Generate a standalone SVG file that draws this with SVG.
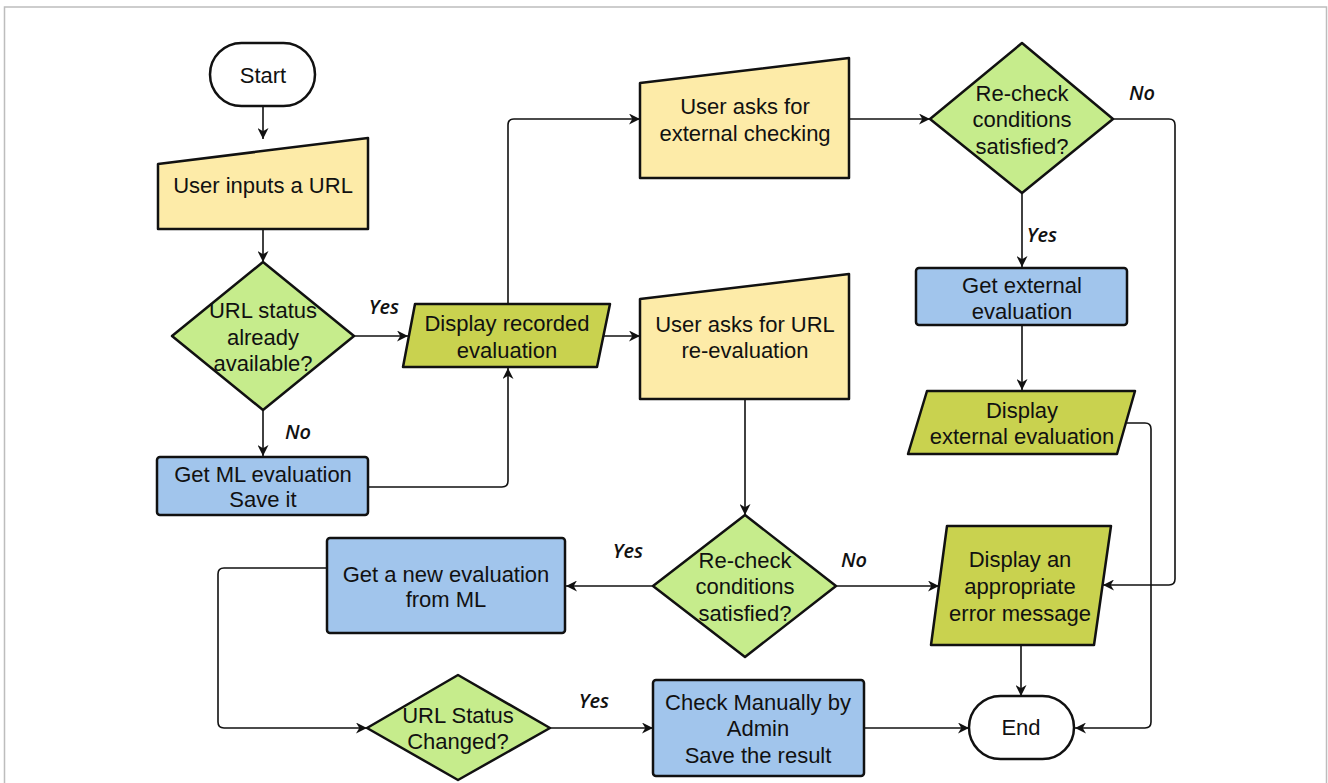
<svg xmlns="http://www.w3.org/2000/svg" width="1328" height="783" viewBox="0 0 1328 783">
  <style>
    .node { stroke: #111; stroke-width: 2.5; stroke-linejoin: round; }
    .term { fill: #ffffff; }
    .input { fill: #fdeba8; }
    .decision { fill: #c6ec8c; }
    .display { fill: #c9d24f; }
    .process { fill: #a1c5ec; }
    .label { font-family: "Liberation Sans", Arial, sans-serif; font-size: 22px; fill: #111; text-anchor: middle; }
    .branch { font-family: "Open Sans", "DejaVu Sans", sans-serif; font-size: 20px; font-style: italic; font-weight: 600; fill: #111; text-anchor: middle; }
    .conn { fill: none; stroke: #111; stroke-width: 1.6; marker-end: url(#arrow); }
  </style>
  <defs>
    <marker id="arrow" viewBox="0 0 10 10" refX="10" refY="5" markerWidth="11" markerHeight="11" markerUnits="userSpaceOnUse" orient="auto">
      <path d="M0,0 L10,5 L0,10 L3,5 Z" fill="#111"/>
    </marker>
  </defs>

  <rect x="0" y="0" width="1328" height="783" fill="#ffffff"/>
  <!-- frame -->
  <rect x="4.5" y="7" width="1322" height="800" fill="none" stroke="#bdbdbd" stroke-width="1.5"/>

  <!-- connectors -->
  <g id="connectors">
    <path class="conn" d="M263,106 V139"/>
    <path class="conn" d="M263,229 V262"/>
    <path class="conn" d="M354,336 H408"/>
    <path class="conn" d="M263,410 V456"/>
    <path class="conn" d="M368,487 H502 Q508,487 508,481 V368"/>
    <path class="conn" d="M508,304 V125 Q508,119 514,119 H640"/>
    <path class="conn" d="M603,336 H640"/>
    <path class="conn" d="M849,119 H930"/>
    <path class="conn" d="M1113,119 H1169 Q1175,119 1175,125 V579 Q1175,585 1169,585 H1103"/>
    <path class="conn" d="M1022,193 V267"/>
    <path class="conn" d="M1022,325 V390"/>
    <path class="conn" d="M1127,423 H1145 Q1151,423 1151,429 V722 Q1151,728 1145,728 H1075"/>
    <path class="conn" d="M745,399 V515"/>
    <path class="conn" d="M836,586 H939"/>
    <path class="conn" d="M653,586 H566"/>
    <path class="conn" d="M327,568 H224 Q218,568 218,574 V722 Q218,728 224,728 H367"/>
    <path class="conn" d="M550,728 H653"/>
    <path class="conn" d="M864,728 H969"/>
    <path class="conn" d="M1021,645 V696"/>

    <text class="branch" x="384" y="314">Yes</text>
    <text class="branch" x="298" y="439">No</text>
    <text class="branch" x="1042" y="242">Yes</text>
    <text class="branch" x="1142" y="100">No</text>
    <text class="branch" x="628" y="558">Yes</text>
    <text class="branch" x="854" y="567">No</text>
    <text class="branch" x="594" y="708">Yes</text>
  </g>

  <g id="start">
    <rect class="node term" x="210" y="43" width="105" height="63" rx="31.5"/>
    <text class="label" x="263" y="83">Start</text>
  </g>

  <g id="user-input-url">
    <path class="node input" d="M158,164 L368,138 L368,229 L158,229 Z"/>
    <text class="label" x="263" y="193">User inputs a URL</text>
  </g>

  <g id="status-available">
    <path class="node decision" d="M263,262 L354,336 L263,410 L172,336 Z"/>
    <text class="label" x="263" y="318">URL status</text>
    <text class="label" x="263" y="345">already</text>
    <text class="label" x="263" y="371">available?</text>
  </g>

  <g id="display-recorded">
    <path class="node display" d="M415,304 L610,304 L597,367 L403,367 Z"/>
    <text class="label" x="507" y="331">Display recorded</text>
    <text class="label" x="507" y="358">evaluation</text>
  </g>

  <g id="get-ml-evaluation">
    <rect class="node process" x="157" y="457" width="211" height="58" rx="3"/>
    <text class="label" x="263" y="482">Get ML evaluation</text>
    <text class="label" x="263" y="507">Save it</text>
  </g>

  <g id="ask-external">
    <path class="node input" d="M640,83 L849,58 L849,178 L640,178 Z"/>
    <text class="label" x="745" y="114">User asks for</text>
    <text class="label" x="745" y="141">external checking</text>
  </g>

  <g id="ask-reevaluation">
    <path class="node input" d="M640,299 L849,274 L849,399 L640,399 Z"/>
    <text class="label" x="745" y="332">User asks for URL</text>
    <text class="label" x="745" y="358">re-evaluation</text>
  </g>

  <g id="recheck-external">
    <path class="node decision" d="M1022,43 L1113,119 L1022,193 L930,119 Z"/>
    <text class="label" x="1022" y="101">Re-check</text>
    <text class="label" x="1022" y="127">conditions</text>
    <text class="label" x="1022" y="154">satisfied?</text>
  </g>

  <g id="get-external">
    <rect class="node process" x="916" y="268" width="211" height="57" rx="3"/>
    <text class="label" x="1022" y="293">Get external</text>
    <text class="label" x="1022" y="319">evaluation</text>
  </g>

  <g id="display-external">
    <path class="node display" d="M927,391 L1135,391 L1117,454 L908,454 Z"/>
    <text class="label" x="1022" y="418">Display</text>
    <text class="label" x="1022" y="444">external evaluation</text>
  </g>

  <g id="recheck-reevaluation">
    <path class="node decision" d="M745,515 L836,586 L745,657 L653,586 Z"/>
    <text class="label" x="745" y="568">Re-check</text>
    <text class="label" x="745" y="594">conditions</text>
    <text class="label" x="745" y="621">satisfied?</text>
  </g>

  <g id="error-message">
    <path class="node display" d="M947,526 L1111,526 L1094,645 L931,645 Z"/>
    <text class="label" x="1020" y="567">Display an</text>
    <text class="label" x="1020" y="594">appropriate</text>
    <text class="label" x="1020" y="621">error message</text>
  </g>

  <g id="new-ml-evaluation">
    <rect class="node process" x="327" y="538" width="238" height="95" rx="3"/>
    <text class="label" x="446" y="582">Get a new evaluation</text>
    <text class="label" x="446" y="607">from ML</text>
  </g>

  <g id="status-changed">
    <path class="node decision" d="M458,675 L550,728 L458,780 L367,728 Z"/>
    <text class="label" x="458" y="723">URL Status</text>
    <text class="label" x="458" y="749">Changed?</text>
  </g>

  <g id="manual-check">
    <rect class="node process" x="653" y="680" width="211" height="96" rx="3"/>
    <text class="label" x="758" y="710">Check Manually by</text>
    <text class="label" x="758" y="736">Admin</text>
    <text class="label" x="758" y="763">Save the result</text>
  </g>

  <g id="end">
    <rect class="node term" x="969" y="696" width="105" height="63" rx="31.5"/>
    <text class="label" x="1021" y="735">End</text>
  </g>
</svg>
